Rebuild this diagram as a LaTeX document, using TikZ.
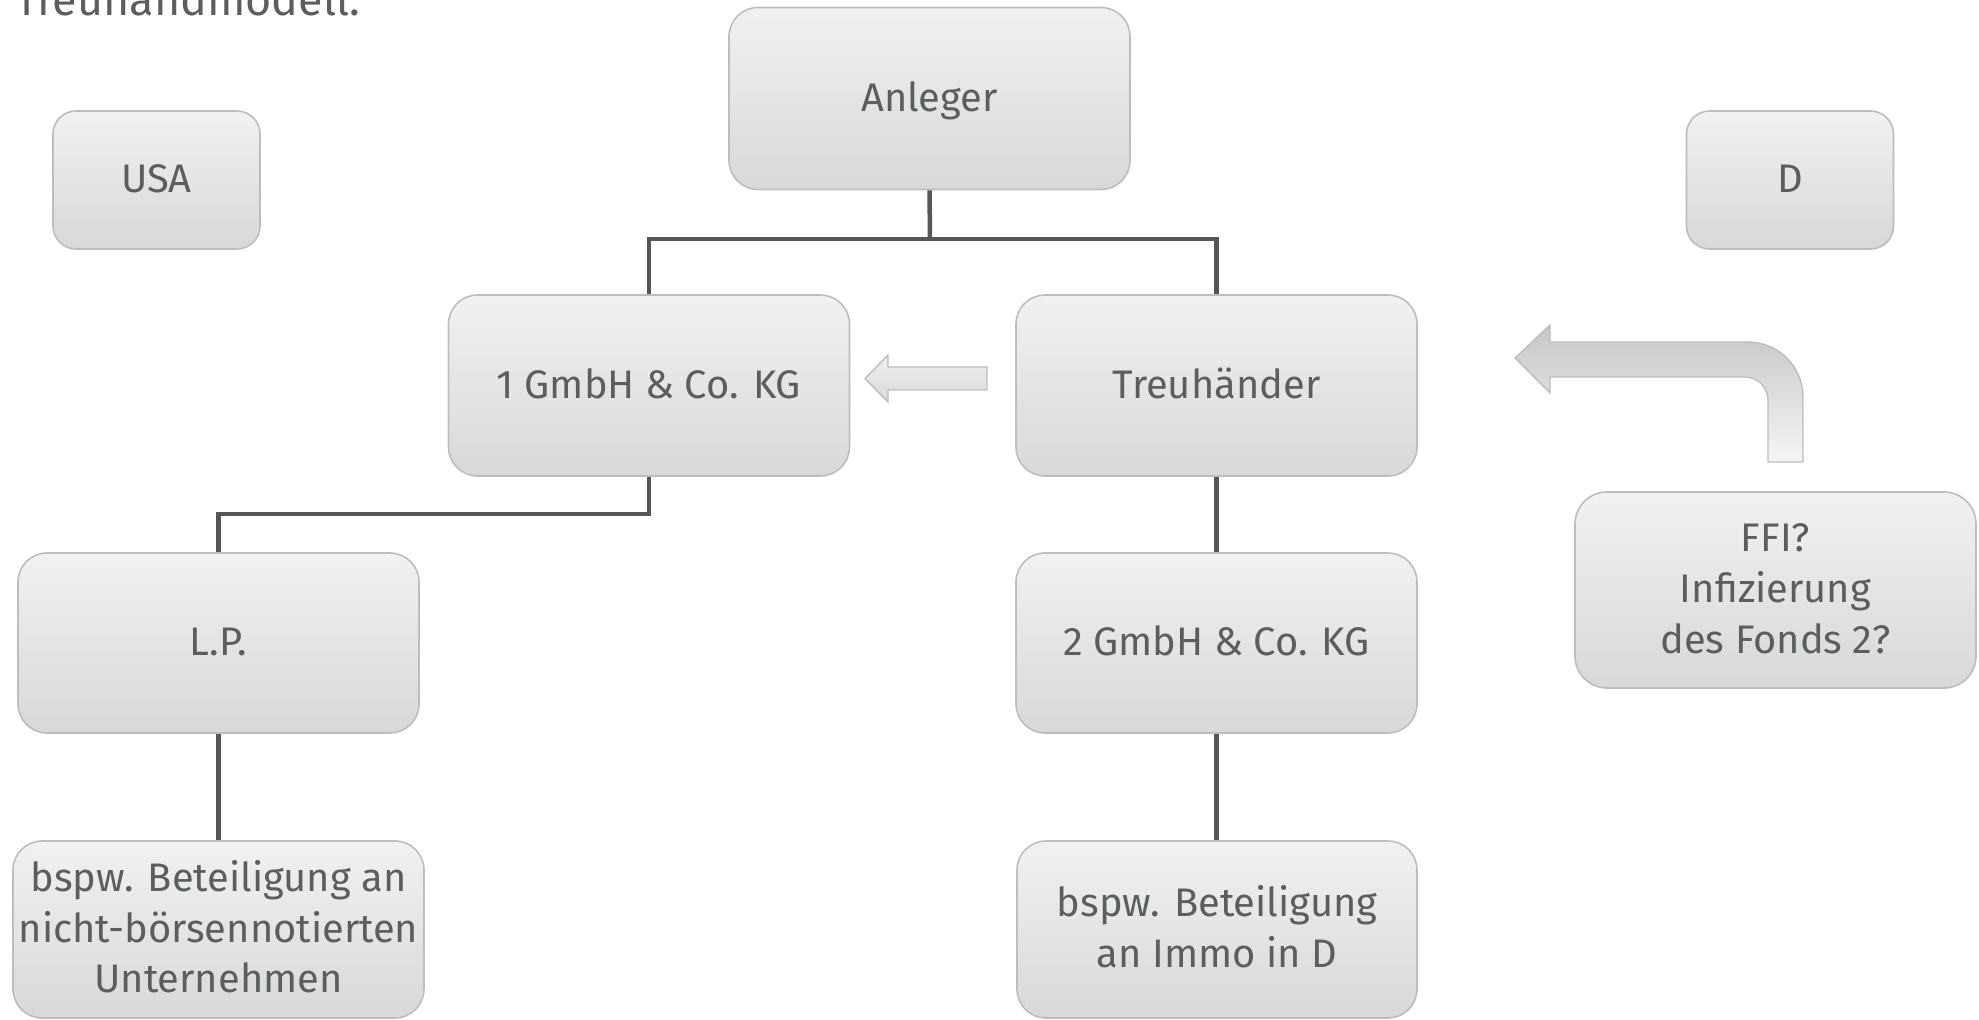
\documentclass[tikz,border=0pt]{standalone}
\usepackage{fontspec}
\setmainfont{Fira Sans}
\definecolor{boxline}{HTML}{BDBDBD}
\definecolor{boxtop}{HTML}{F1F1F1}
\definecolor{boxbot}{HTML}{D8D8D8}
\definecolor{txt}{HTML}{5A5F5D}
\definecolor{conn}{HTML}{535855}
\definecolor{arrtop}{HTML}{C6C6C6}
\definecolor{arrbot}{HTML}{F5F5F5}
\newcommand\bst{\rule[-0.27em]{0pt}{1.17em}}
\tikzset{
  box/.style={draw=boxline, line width=1.6bp, top color=boxtop, bottom color=boxbot,
    text=txt, align=center, inner sep=0pt, font=\fontsize{40}{51}\selectfont,
    rounded corners=29bp, minimum width=401bp, minimum height=181bp},
  smallbox/.style={box, rounded corners=23bp, minimum width=207bp, minimum height=138bp},
  link/.style={draw=conn, line width=4.5bp},
  blockarrow/.style={draw=boxline, line width=1.4bp, top color=arrtop, bottom color=arrbot},
  lightarrow/.style={blockarrow, top color=boxtop, bottom color=boxbot}
}
\begin{document}
\begin{tikzpicture}[x=1bp, y=-1bp]
\useasboundingbox (0,0) rectangle (1979,1019);
\clip (0,0) rectangle (1979,1019);
% title
\node[anchor=base west, inner sep=0pt, text=txt, font=\fontsize{45}{48}\selectfont] (title) at (15,15) {Treuhandmodell:};
% boxes
\node[box, minimum height=182bp] (anleger) at (929.5,98.5) {\bst Anleger};
\node[smallbox] (usa) at (156.5,180) {\bst USA};
\node[smallbox] (d) at (1790,180) {\bst D};
\node[box] (g1) at (649,385.5) {\bst 1 GmbH \& Co. KG};
\node[box] (treu) at (1216.5,385.5) {\bst Treuhänder};
\node[box, minimum height=180bp] (lp) at (218.5,643) {\bst L.P.};
\node[box, minimum height=180bp] (g2) at (1216.5,643) {\bst 2 GmbH \& Co. KG};
\node[box, minimum height=196bp, rounded corners=32bp] (ffi) at (1775.5,590) {\bst FFI?\\\bst Infizierung\\\bst des Fonds 2?};
\node[box, minimum width=411bp, minimum height=177bp] (b1) at (218.5,929.5) {\bst bspw. Beteiligung an\\\bst nicht-börsennotierten\\\bst Unternehmen};
\node[box, minimum width=400bp, minimum height=177bp] (b2) at (1217,929.5) {\bst bspw. Beteiligung\\\bst an Immo in D};
% connectors
\coordinate (h1) at (930,239);
\draw[link] (anleger.south) -- (h1);
\draw[link] (g1.north) |- (h1) -| (treu.north);
\coordinate (h2) at (649,514);
\draw[link] (g1.south) -- (h2) -| (lp.north);
\draw[link] (lp.south) -- (b1.north -| lp.south);
\draw[link] (treu.south) -- (g2.north);
\draw[link] (g2.south) -- (b2.north -| g2.south);
% small block arrow
\path[lightarrow] (865,378.5) -- (888,355) -- (888,367) -- (987,367) -- (987,390) -- (888,390) -- (888,402) -- cycle;
% bent block arrow
\path[blockarrow] (1515,358) -- (1550,325) -- (1550,342) -- (1748,342)
  .. controls (1778.4,342) and (1803,366.6) .. (1803,397)
  -- (1803,462) -- (1768,462) -- (1768,400)
  .. controls (1768,387.3) and (1757.7,377) .. (1745,377)
  -- (1550,377) -- (1550,393) -- cycle;
\end{tikzpicture}
\end{document}
